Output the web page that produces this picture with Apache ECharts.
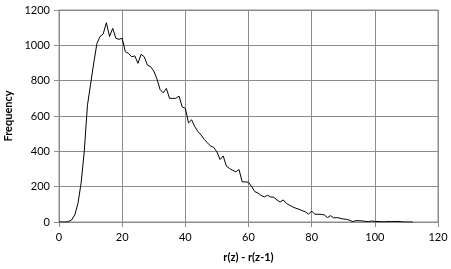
<!DOCTYPE html>
<html><head><meta charset="utf-8">
<script src="https://cdn.jsdelivr.net/npm/echarts@6/dist/echarts.min.js"></script>
<style>html,body{margin:0;padding:0;background:#fff}#c{width:451px;height:269px}</style>
</head><body><div id="c"></div>
<script>
const xValues = [0,1,2,3,4,5,6,7,8,9,10,11,12,13,14,15,16,17,18,19,20,21,22,23,24,25,26,27,28,29,30,31,32,33,34,35,36,37,38,39,40,41,42,43,44,45,46,47,48,49,50,51,52,53,54,55,56,57,58,59,60,61,62,63,64,65,66,67,68,69,70,71,72,73,74,75,76,77,78,79,80,81,82,83,84,85,86,87,88,89,90,91,92,93,94,95,96,97,98,99,100,101,102,103,104,105,106,107,108,109,110,111,112];
const frequency = [0,0,0,2,12,40,105,220,400,660,780,900,1010,1050,1065,1128,1050,1096,1040,1034,1040,964,955,935,940,898,949,935,888,879,855,810,750,731,756,700,700,700,713,652,643,561,578,539,512,492,468,448,430,422,397,354,374,316,303,292,284,297,227,227,225,200,172,164,150,142,151,142,140,125,113,125,105,95,85,78,72,64,58,44,62,44,44,43,40,25,36,23,25,21,17,15,10,2,8,7,6,4,2,6,3,3,2,1,3,3,3,3,3,0,0,0,0];
const xTitle = 'r(z) - r(z-1)';
const yTitle = 'Frequency';

const chart = echarts.init(document.getElementById('c'), null, {renderer:'canvas'});
const gridColor = '#8c8c8c';
const font = 'Lato';
chart.setOption({
  animation: false,
  grid: {left: 59, right: 13, top: 10, bottom: 47, show: true, borderColor: gridColor, borderWidth: 1, containLabel: false, outerBoundsMode: 'none'},
  xAxis: {
    type: 'value', min: 0, max: 120, interval: 20,
    name: xTitle, nameLocation: 'middle', nameGap: 30,
    nameTextStyle: {fontFamily: font, fontSize: 11, fontWeight: 'bold', color: '#000'},
    axisLine: {show: true, lineStyle: {color: gridColor}},
    axisTick: {show: true, length: 5, lineStyle: {color: gridColor}},
    axisLabel: {fontFamily: font, fontSize: 11, color: '#000', margin: 10, formatter: v => String(v)},
    splitLine: {show: true, lineStyle: {color: gridColor, width: 1}}
  },
  yAxis: {
    type: 'value', min: 0, max: 1200, interval: 200,
    name: yTitle, nameLocation: 'middle', nameGap: 42, nameRotate: 90,
    nameTextStyle: {fontFamily: font, fontSize: 11, fontWeight: 'bold', color: '#000'},
    axisLine: {show: true, lineStyle: {color: gridColor}},
    axisTick: {show: true, length: 5, lineStyle: {color: gridColor}},
    axisLabel: {fontFamily: font, fontSize: 11, color: '#000', margin: 9, formatter: v => String(v)},
    splitLine: {show: true, lineStyle: {color: gridColor, width: 1}}
  },
  series: [{
    type: 'line',
    data: xValues.map((x, i) => [x, frequency[i]]),
    showSymbol: false,
    lineStyle: {color: '#000', width: 1}
  }]
});
</script></body></html>
